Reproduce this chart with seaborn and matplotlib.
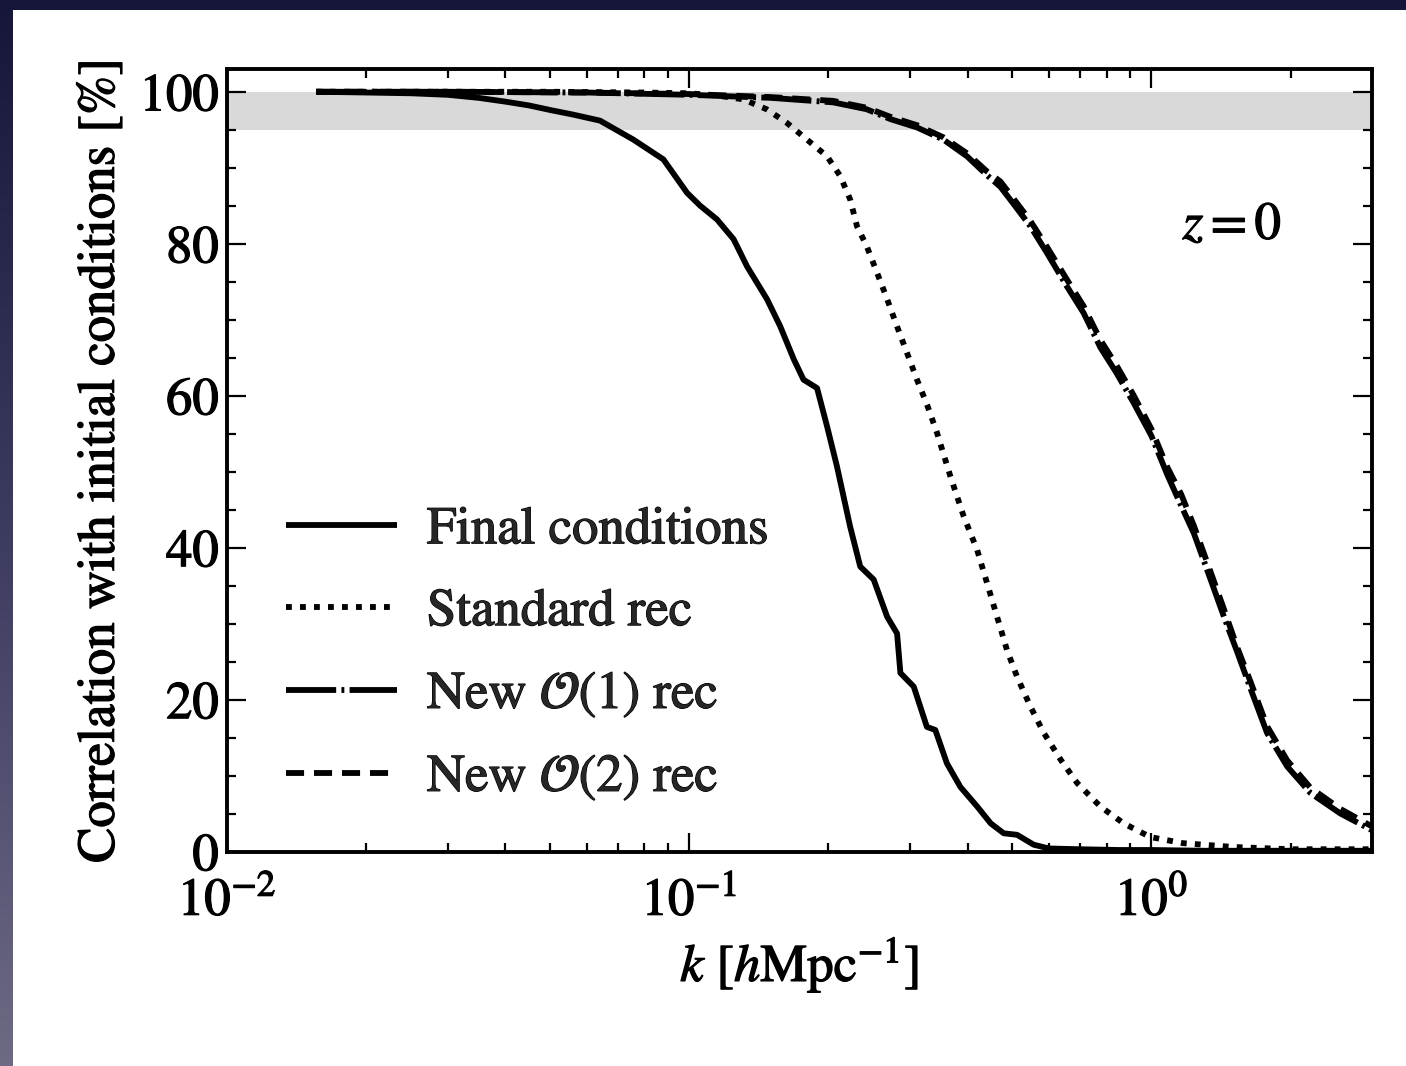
import numpy as np
import pandas as pd
import matplotlib
matplotlib.use("Agg")
import matplotlib.pyplot as plt
import matplotlib.patheffects as pe
from matplotlib.patches import Rectangle
from matplotlib.ticker import MultipleLocator, LogLocator, NullFormatter
import seaborn as sns

# ---- data: cross-correlation with the initial density field, z = 0 ----
k_final = [0.0156, 0.020, 0.025, 0.030, 0.035, 0.040, 0.045, 0.050, 0.056, 0.0641,
           0.0757, 0.0879, 0.0989, 0.1056, 0.1148, 0.1247, 0.1334, 0.1473, 0.1574,
           0.1683, 0.1767, 0.189, 0.1986, 0.2087, 0.2228, 0.2344, 0.2506, 0.268,
           0.2816, 0.2863, 0.306, 0.3267, 0.3407, 0.361, 0.386, 0.420, 0.449, 0.479,
           0.512, 0.556, 0.60, 0.70, 0.85, 1.0, 1.3, 1.7, 2.2, 3.0]
v_final = [100.0, 99.9, 99.8, 99.6, 99.2, 98.7, 98.2, 97.6, 97.0, 96.2,
           93.7, 91.1, 86.7, 85.0, 83.2, 80.6, 77.0, 72.7, 69.1,
           64.8, 62.1, 61.0, 56.0, 50.7, 42.8, 37.5, 35.8, 30.9,
           28.7, 23.5, 21.7, 16.4, 16.0, 11.6, 8.5, 5.9, 3.7, 2.4,
           2.2, 0.9, 0.4, 0.3, 0.2, 0.2, 0.1, 0.1, 0.1, 0.1]

k_std = [0.0156, 0.03, 0.05, 0.08, 0.10, 0.115, 0.131, 0.147, 0.1627, 0.1798,
         0.1987, 0.2122, 0.223, 0.2306, 0.242, 0.2548, 0.268, 0.2816, 0.296,
         0.311, 0.327, 0.3436, 0.3672, 0.3925, 0.4196, 0.441, 0.4634, 0.487,
         0.512, 0.547, 0.585, 0.636, 0.691, 0.776, 0.871, 0.995, 1.17, 1.5, 2.0, 3.0]
v_std = [100.0, 100.0, 100.0, 99.9, 99.8, 99.5, 99.0, 97.7, 95.9, 93.7,
         91.5, 88.9, 85.8, 82.3, 79.7, 76.2, 72.7, 69.1, 65.6,
         62.1, 58.8, 55.1, 49.4, 44.1, 39.7, 35.3, 30.9, 26.5,
         23.0, 19.1, 15.6, 12.1, 9.0, 5.9, 3.7, 1.9, 1.1, 0.6, 0.3, 0.3]

k_new = [0.0156, 0.03, 0.06, 0.10, 0.15, 0.205, 0.242, 0.2724, 0.311, 0.3548,
         0.399, 0.441, 0.471, 0.495, 0.547, 0.594, 0.656, 0.713, 0.776, 0.84,
         0.916, 1.0, 1.082, 1.16, 1.235, 1.33, 1.435, 1.53, 1.637, 1.779, 1.966,
         2.208, 2.564, 3.0]
v_new1 = [100.0, 100.0, 99.9, 99.6, 99.2, 98.6, 97.7, 96.4, 95.3, 93.7,
          91.5, 89.0, 87.5, 85.8, 82.3, 78.8, 74.4, 70.9, 66.3, 63.0,
          59.0, 54.7, 49.6, 45.5, 41.9, 36.5, 30.9, 26.4, 21.5, 15.6, 11.2,
          7.7, 5.0, 2.8]
v_new2 = [100.0, 100.0, 99.9, 99.7, 99.3, 98.8, 97.9, 96.7, 95.6, 94.0,
          91.9, 89.5, 88.2, 86.5, 83.0, 79.6, 75.3, 71.8, 67.3, 64.0,
          60.0, 55.6, 50.6, 47.0, 42.9, 37.5, 31.9, 27.0, 22.4, 16.5, 12.0,
          8.4, 5.6, 3.3]

series = [
    ("Final conditions", k_final, v_final, None),
    ("Standard rec", k_std, v_std, (1.0, 1.4)),
    (r"New $\mathcal{O}(1)$ rec", k_new, v_new1, (8.6, 0.9, 0.5, 0.9)),
    (r"New $\mathcal{O}(2)$ rec", k_new, v_new2, (3.1, 1.7)),
]

# ---- style ----
sns.set_theme(style="ticks")
plt.rcParams["font.family"] = ["STIXGeneral", "DejaVu Serif"]
plt.rcParams["mathtext.fontset"] = "stix"
plt.rcParams["axes.unicode_minus"] = False
FS = 38
LW = 4.2
heavy = [pe.withStroke(linewidth=0.9, foreground="black")]

fig = plt.figure(figsize=(14.06, 10.66), dpi=100, facecolor="white")

# dark slide frame: thin band on top, gradient strip on the left
fig.patches.append(Rectangle((0, 1 - 10 / 1066), 1, 10 / 1066, transform=fig.transFigure,
                             facecolor="#15153a", edgecolor="none", zorder=0))
strip = fig.add_axes([0, 0, 13 / 1406, 1])
grad = np.linspace(0, 1, 256)[:, None]
cmap = matplotlib.colors.LinearSegmentedColormap.from_list(
    "frame", ["#16163a", "#3c3b60", "#6c6a84"])
strip.imshow(grad, aspect="auto", cmap=cmap, extent=[0, 1, 0, 1], origin="upper")
strip.set_axis_off()

ax = fig.add_axes([0.1615, 0.2012, 0.8143, 0.7341])
ax.set_facecolor("white")

ax.axhspan(95, 100, color="#d9d9d9", lw=0, zorder=0)

for label, k, v, dash in series:
    df = pd.DataFrame({"k": k, "corr": v})
    sns.lineplot(data=df, x="k", y="corr", ax=ax, color="black", lw=LW,
                 estimator=None, sort=False, label=label)
    line = ax.lines[-1]
    if dash is not None:
        line.set_dashes(dash)
    line.set_solid_capstyle("butt")
    line.set_dash_capstyle("butt")

ax.set_xscale("log")
ax.set_xlim(0.01, 3.0)
ax.set_ylim(0, 103)

ax.yaxis.set_major_locator(MultipleLocator(20))
ax.yaxis.set_minor_locator(MultipleLocator(5))
ax.xaxis.set_major_locator(LogLocator(base=10, numticks=10))
ax.xaxis.set_minor_locator(LogLocator(base=10, subs=np.arange(2, 10), numticks=20))
ax.xaxis.set_minor_formatter(NullFormatter())

ax.tick_params(which="both", direction="in", top=True, right=True,
               labelsize=FS, color="black", labelcolor="black")
ax.tick_params(which="major", length=13.5, width=1.6)
ax.tick_params(which="minor", length=6.5, width=1.6)
ax.tick_params(axis="y", pad=6)
ax.tick_params(axis="x", pad=19)
for s in ax.spines.values():
    s.set_linewidth(2.8)
    s.set_color("black")

ax.set_xlabel(r"$k\ [h\mathrm{Mpc}^{-1}]$", fontsize=FS, color="black", labelpad=5)
ax.set_ylabel("Correlation with initial conditions [%]", fontsize=FS, color="black",
              labelpad=10)

ax.text(1.495, 82.3, r"$z = 0$", fontsize=FS, ha="center", va="center", color="black")

leg = ax.legend(loc="lower left", bbox_to_anchor=(0.033, 0.035), frameon=False,
                fontsize=FS, handlelength=2.1, handletextpad=0.57, labelspacing=0.62,
                borderaxespad=0)

# slightly heavier glyphs for all text
for t in (ax.get_xticklabels() + ax.get_yticklabels() + leg.get_texts()
          + [ax.xaxis.label, ax.yaxis.label] + list(ax.texts)):
    t.set_path_effects(heavy)

fig.savefig("out.png", dpi=100, facecolor="white")
